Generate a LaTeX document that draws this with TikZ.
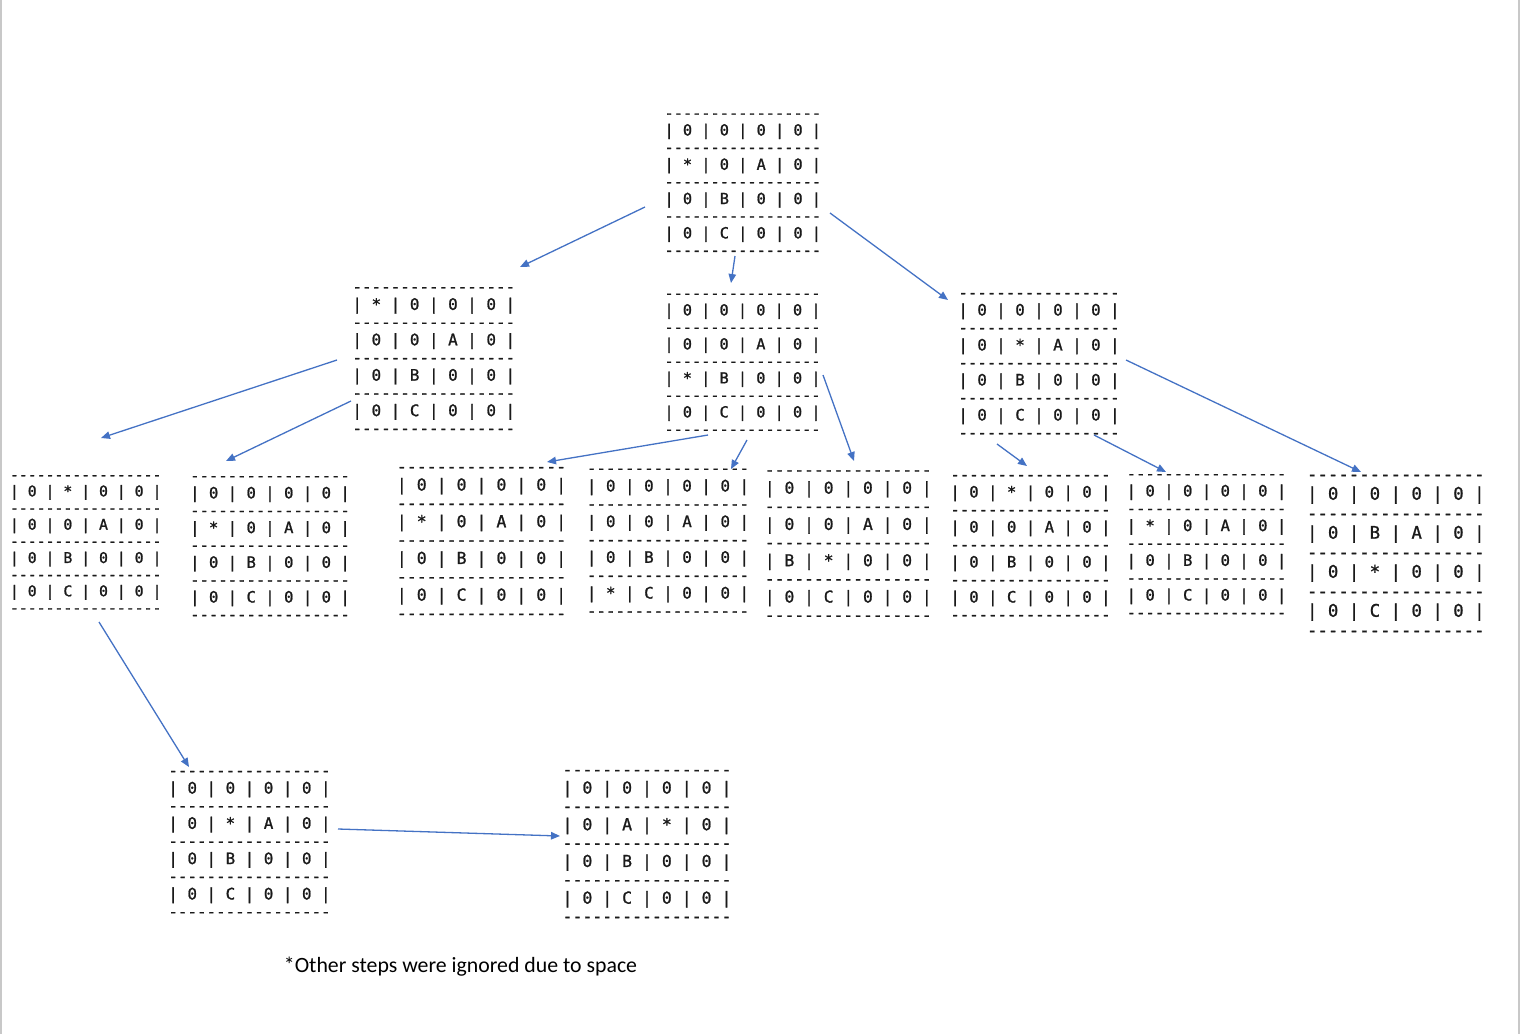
\documentclass[tikz,border=0pt]{standalone}
\usepackage{fontspec}
\setmainfont{Carlito}
\setmonofont[FakeBold=1.2]{DejaVu Sans Mono}
\usepackage{tikz}
\usetikzlibrary{positioning}
\usetikzlibrary{calc}
\usetikzlibrary{arrows.meta}
\definecolor{stepblue}{HTML}{4472C4}
\definecolor{edgegray}{HTML}{C8C8C8}
\definecolor{gridink}{HTML}{1A1A1A}
\newcommand{\gridrule}{-----------------}
\newcommand{\gridrow}[4]{| #1 | #2 | #3 | #4 |}
\newcommand{\board}[4]{\gridrule\\\gridrow#1\\\gridrule\\\gridrow#2\\\gridrule\\\gridrow#3\\\gridrule\\\gridrow#4\\\gridrule}
\tikzset{
	board/.style 2 args={align=center, inner sep=0pt, text=gridink, font=\fontsize{#1}{#2}\selectfont\ttfamily},
	movearrow/.style={draw=stepblue, line width=1.3pt, -{Triangle[length=9pt,width=7.5pt]}}
}

\begin{document}
\begin{tikzpicture}[x=1pt,y=-1pt]
		\useasboundingbox (0,0) rectangle (1520,1034);
		\draw [edgegray, line width=2pt] (1,0) -- (1,1034); \draw [edgegray, line width=2pt] (1518.5,0) -- (1518.5,1034);
		
		% Start
		\node [board={15.3}{17.15}] at (742.8,184.5) (start) {\board{0000}{*0A0}{0B00}{0C00}};
		
		% First moves
		\node [board={15.9}{17.7}] at (433.8,360.5) (up) {\board{*000}{00A0}{0B00}{0C00}};
		\node [board={15.25}{17.0}] at (742.5,364) (down) {\board{0000}{00A0}{*B00}{0C00}};
		\node [board={15.75}{17.5}] at (1039,365.5) (right) {\board{0000}{0*A0}{0B00}{0C00}};
		
		% Second moves
		\node [board={14.8}{16.65}] at (85.7,544) (upright) {\board{0*00}{00A0}{0B00}{0C00}};
		\node [board={15.6}{17.35}] at (270,548) (updown) {\board{0000}{*0A0}{0B00}{0C00}};
		\node [board={16.55}{18.35}] at (481.5,543) (downup) {\board{0000}{*0A0}{0B00}{0C00}};
		\node [board={15.85}{17.85}] at (668,542.5) (downdown) {\board{0000}{00A0}{0B00}{*C00}};
		\node [board={16.3}{18.15}] at (848.3,545.5) (downright) {\board{0000}{00A0}{B*00}{0C00}};
		\node [board={15.65}{17.5}] at (1030.5,547.5) (rightup) {\board{0*00}{00A0}{0B00}{0C00}};
		\node [board={15.6}{17.35}] at (1206.5,546) (rightleft) {\board{0000}{*0A0}{0B00}{0C00}};
		\node [board={17.35}{19.5}] at (1395.8,555.5) (rightdown) {\board{0000}{0BA0}{0*00}{0C00}};
		
		% Further moves
		\node [board={15.85}{17.65}] at (249.5,844) (uprightdown) {\board{0000}{0*A0}{0B00}{0C00}};
		\node [board={16.5}{18.35}] at (647,846) (uprightdownright) {\board{0000}{0A*0}{0B00}{0C00}};
		
		\node [font=\fontsize{21.8}{26}\selectfont] at (460.5,967) (note) {*Other steps were ignored due to space};
		
		% Arrows
		\draw [movearrow] ($(start)+(-97.8,22.5)$) -- ($(up)+(86.2,-93.5)$); \draw [movearrow] ($(start)+(-7.8,71.5)$) -- ($(down)+(-11.5,-81)$); \draw [movearrow] ($(start)+(87.2,28.5)$) -- ($(right)+(-91,-65.5)$);
		\draw [movearrow] ($(up)+(-96.8,-0.5)$) -- ($(upright)+(15.3,-106)$); \draw [movearrow] ($(up)+(-82.8,40.5)$) -- ($(updown)+(-44,-87)$);
		\draw [movearrow] ($(down)+(-34.5,71)$) -- ($(downup)+(65.5,-81)$); \draw [movearrow] ($(down)+(4.5,76)$) -- ($(downdown)+(63,-73.5)$); \draw [movearrow] ($(down)+(80.5,11)$) -- ($(downright)+(5.7,-84.5)$);
		\draw [movearrow] ($(right)+(-42,78.5)$) -- ($(rightup)+(-3.5,-81.5)$); \draw [movearrow] ($(right)+(55,69.5)$) -- ($(rightleft)+(-40.5,-74)$); \draw [movearrow] ($(right)+(87,-5.5)$) -- ($(rightdown)+(-34.8,-83.5)$);
		\draw [movearrow] ($(upright)+(13.3,78)$) -- ($(uprightdown)+(-60.5,-77)$); \draw [movearrow] ($(uprightdown)+(88.5,-15)$) -- ($(uprightdownright)+(-87,-10)$);
		
\end{tikzpicture}
\end{document}
